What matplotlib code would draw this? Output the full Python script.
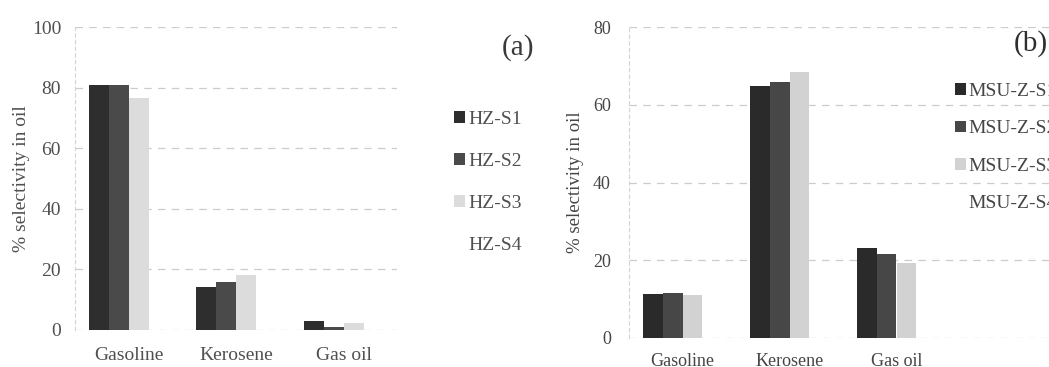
import matplotlib
matplotlib.use("Agg")
import matplotlib.pyplot as plt
import numpy as np

# Product fractions in the oil
categories = ["Gasoline", "Kerosene", "Gas oil"]

# Panel (a): HZ catalysts
hz_labels = ["HZ-S1", "HZ-S2", "HZ-S3", "HZ-S4"]
hz_s1 = [81.0, 14.2, 3.0]
hz_s2 = [81.0, 15.8, 1.0]
hz_s3 = [76.5, 18.0, 2.3]
hz_s4 = [0.0, 0.0, 0.0]

# Panel (b): MSU-Z catalysts
msu_labels = ["MSU-Z-S1", "MSU-Z-S2", "MSU-Z-S3", "MSU-Z-S4"]
msu_s1 = [11.3, 64.8, 23.1]
msu_s2 = [11.6, 65.8, 21.6]
msu_s3 = [11.0, 68.4, 19.3]
msu_s4 = [0.0, 0.0, 0.0]

plt.rcParams["font.family"] = ["Liberation Serif", "DejaVu Serif"]

W, H = 1049, 367
fig = plt.figure(figsize=(W / 100, H / 100), dpi=100)
fig.patch.set_facecolor("white")

colors_a = ["#2e2e2e", "#4a4a4a", "#dcdcdc", "#ffffff"]
colors_b = ["#2a2a2a", "#474747", "#d2d2d2", "#ffffff"]
text_a = "#505050"
text_b = "#454545"


def px_axes(left, right, bottom, top):
    return fig.add_axes([left / W, (H - bottom) / H, (right - left) / W, (bottom - top) / H])


def draw_panel(ax, series, labels, colors, ymax, ystep, tcolor, fsize, ypad, xpad):
    x = np.arange(len(categories))
    width = 0.185
    handles = []
    for i, (vals, lab, col) in enumerate(zip(series, labels, colors)):
        offs = (i - 1.5) * width
        b = ax.bar(x + offs, vals, width, color=col, edgecolor="none", label=lab, zorder=3)
        handles.append(b)
    ax.set_ylim(0, ymax)
    ax.set_yticks(np.arange(0, ymax + 1, ystep))
    ax.set_xticks(x)
    ax.set_xticklabels(categories)
    ax.tick_params(axis="both", length=0, labelsize=fsize, colors=tcolor)
    ax.tick_params(axis="y", pad=ypad)
    ax.tick_params(axis="x", pad=xpad)
    for s in ["top", "right", "bottom"]:
        ax.spines[s].set_visible(False)
    ax.spines["left"].set_color("#d4d4d4")
    ax.spines["left"].set_linestyle((0, (3, 3)))
    ax.spines["left"].set_linewidth(0.8)
    ax.yaxis.grid(True, color="#cccccc", linestyle=(0, (6, 5)), linewidth=0.9, zorder=0)
    ax.set_axisbelow(True)
    ax.set_facecolor("none")
    return handles


# Panel (a)
ax_a = px_axes(75, 397.5, 330, 27)
ha = draw_panel(ax_a, [hz_s1, hz_s2, hz_s3, hz_s4], hz_labels, colors_a,
                100, 20, text_a, 14, 10, 12)
ax_a.set_xlim(-0.5, 2.5)
ax_a.set_ylabel("% selectivity in oil", fontsize=14, color=text_a, ha="center", va="center")
ax_a.yaxis.set_label_coords((21 - 75) / 322.5, 0.5)

# Panel (b)
ax_b = px_axes(629, 1057, 338, 27)
hb = draw_panel(ax_b, [msu_s1, msu_s2, msu_s3, msu_s4], msu_labels, colors_b,
                80, 20, text_b, 13, 13, 11)
ax_b.set_xlim(-0.5, 3.5)
ax_b.set_ylabel("% selectivity in oil", fontsize=13.5, color=text_b, ha="center", va="center")
ax_b.yaxis.set_label_coords((575 - 629) / 428, 0.5)

# Legends
leg_a = fig.legend(handles=ha, labels=hz_labels, loc="upper left",
                   bbox_to_anchor=(454 / W, 1 - 111 / H), frameon=False,
                   fontsize=14, handlelength=0.55, handleheight=0.55,
                   handletextpad=0.2, labelspacing=1.29, borderaxespad=0, borderpad=0)
for t in leg_a.get_texts():
    t.set_color(text_a)

leg_b = fig.legend(handles=hb, labels=msu_labels, loc="upper left",
                   bbox_to_anchor=(955 / W, 1 - 83 / H), frameon=False,
                   fontsize=14, handlelength=0.55, handleheight=0.55,
                   handletextpad=0.15, labelspacing=1.05, borderaxespad=0, borderpad=0)
for t in leg_b.get_texts():
    t.set_color(text_b)

# Panel tags
fig.text(518 / W, 1 - 48 / H, "(a)", fontsize=21, color="#3a3a3a", ha="center", va="center")
fig.text(1031 / W, 1 - 44 / H, "(b)", fontsize=21, color="#2e2e2e", ha="center", va="center")

fig.savefig("out.png", dpi=100, facecolor="white")
